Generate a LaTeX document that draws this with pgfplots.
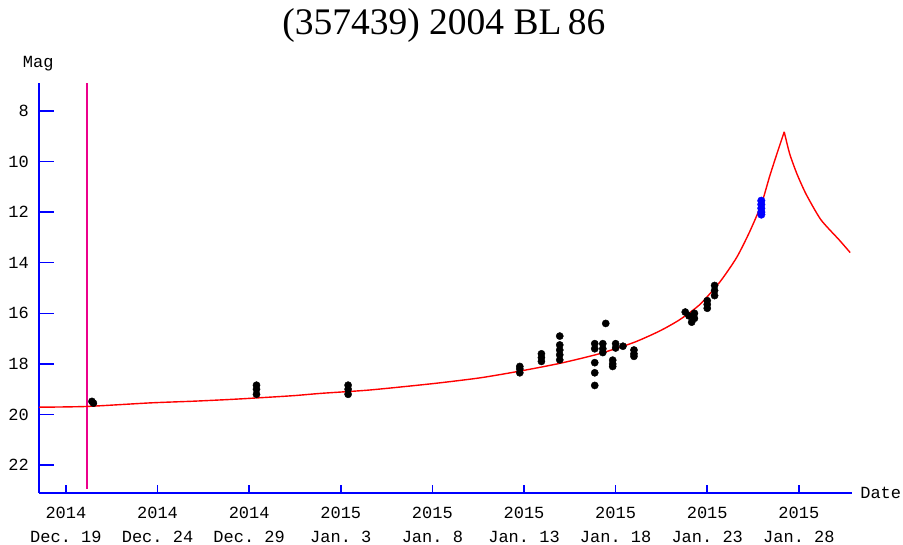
\documentclass[border=0pt]{standalone}
\usepackage{fontspec}
\setmainfont{Liberation Serif}
\setmonofont{Liberation Mono}
\usepackage{pgfplots}
\pgfplotsset{compat=1.18}
\begin{document}
\begin{tikzpicture}[x=1pt,y=1pt]
\path[use as bounding box] (0,0) rectangle (903,544);
\begin{axis}[at={(39pt,51pt)}, anchor=south west, scale only axis,
  width=813pt, height=410pt,
  xmin=-1.47, xmax=42.9, ymin=6.9, ymax=23.1, y dir=reverse,
  axis x line=bottom, axis y line=left,
  axis line style={-, blue, line width=1.6pt},
  tick align=inside,
  xtick={0,5,10,15,20,25,30,35,40},
  xticklabels={{2014\\Dec. 19},{2014\\Dec. 24},{2014\\Dec. 29},{2015\\Jan. 3},{2015\\Jan. 8},{2015\\Jan. 13},{2015\\Jan. 18},{2015\\Jan. 23},{2015\\Jan. 28}},
  ytick={8,10,12,14,16,18,20,22},
  yticklabels={8,10,12,14,16,18,20,22},
  xtick style={blue, line width=1.6pt, /pgfplots/major tick length=8pt},
  ytick style={blue, line width=1.6pt, /pgfplots/major tick length=15pt},
  xticklabel style={font=\fontsize{17}{24}\selectfont\ttfamily, align=center, anchor=north, inner sep=0pt, yshift=-14pt},
  yticklabel style={font=\fontsize{17}{20}\selectfont\ttfamily, anchor=east, inner sep=0pt, xshift=-10pt},
  minor tick num=0,
  clip=false]
\addplot[magenta, line width=1.6pt] coordinates {(1.15,6.9) (1.15,22.95)};
\addplot[red, line width=1.4pt, smooth, tension=0.4] coordinates {
(-1.47,19.71) (1.15,19.68) (4.58,19.54) (7.04,19.47) (9.06,19.40) (10.97,19.32)
(12.49,19.25) (13.97,19.16) (16.58,19.03) (20.0,18.78) (22.6,18.55) (24.8,18.28)
(27.0,17.97) (29.1,17.6) (31.0,17.15) (32.4,16.7) (33.5,16.25) (34.6,15.65)
(35.7,14.75) (36.6,13.8) (37.3,12.8) (37.95,11.7) (38.4,10.6) (38.8,9.7)
(39.2,8.83)};
\addplot[red, line width=1.4pt, smooth, tension=0.4] coordinates {
(39.2,8.83) (39.5,9.7) (39.9,10.5) (40.4,11.3) (41.2,12.3) (42.2,13.1) (42.8,13.6)};
\addplot[only marks, mark=*, mark size=3.6pt, black] coordinates {
(1.42,19.48) (1.5,19.55)
(10.4,18.84) (10.4,19.0) (10.4,19.2)
(15.4,18.84) (15.4,19.0) (15.4,19.2)
(24.77,18.1) (24.77,18.2) (24.77,18.35)
(25.95,17.6) (25.95,17.75) (25.95,17.9)
(26.95,16.9) (26.95,17.25) (26.95,17.45) (26.95,17.64) (26.95,17.84)
(28.86,17.2) (28.86,17.4) (28.86,17.95) (28.86,18.35) (28.86,18.85)
(29.3,17.2) (29.3,17.4) (29.3,17.55)
(29.46,16.4)
(29.84,17.85) (29.84,18.0) (29.84,18.1)
(30.0,17.2) (30.0,17.37)
(30.4,17.3)
(31.0,17.45) (31.0,17.6) (31.0,17.7)
(33.8,15.95) (34.0,16.1) (34.15,16.35) (34.3,16.0) (34.3,16.2)
(35.0,15.5) (35.0,15.65) (35.0,15.8)
(35.4,14.9) (35.4,15.1) (35.4,15.3)};
\addplot[only marks, mark=*, mark size=3.8pt, blue] coordinates {
(37.95,11.55) (37.95,11.7) (37.95,11.85) (37.95,12.0) (37.95,12.1)};
\node[font=\fontsize{17}{20}\selectfont\ttfamily, anchor=center] at (axis description cs:-0.001,1.046) {Mag};
\node[font=\fontsize{17}{20}\selectfont\ttfamily, anchor=west, inner sep=0pt] at (axis description cs:1.01,0) {Date};
\node[font=\fontsize{37.5}{40}\selectfont, anchor=center] at (axis description cs:0.498,1.141) {(357439) 2004 BL\,86};
\end{axis}
\end{tikzpicture}
\end{document}
